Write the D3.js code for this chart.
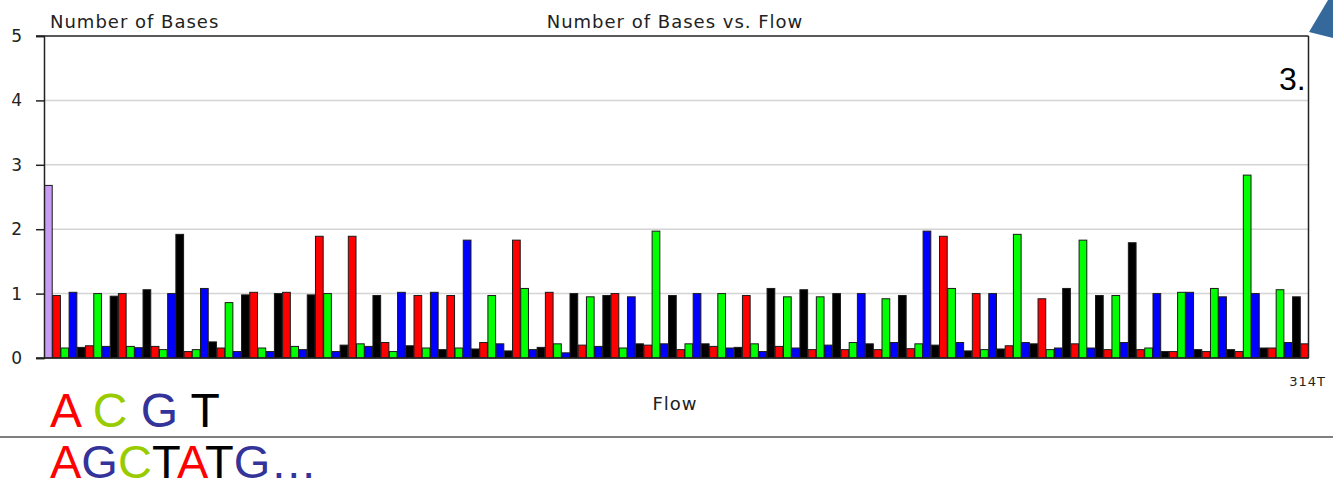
<!DOCTYPE html>
<html>
<head>
<meta charset="utf-8">
<script src="https://cdn.jsdelivr.net/npm/d3@7"></script>
<style>
  html, body { margin: 0; padding: 0; background: #fff; }
  svg { display: block; }
</style>
</head>
<body>
<svg id="chart" width="1333" height="489"></svg>
<script>
// ---- DATA ----
const flowBases = ["A", "C", "G", "T"];          // colour cycle after the key bar
const keyValue = 2.68;                            // first (purple) bar
const flowValues = [
  0.97, 0.155, 1.02, 0.165, 0.19, 1.0, 0.18, 0.96, 1.0, 0.18, 0.16, 1.06,
  0.18, 0.13, 1.0, 1.92, 0.1, 0.13, 1.08, 0.25, 0.155, 0.86, 0.1, 0.98,
  1.02, 0.155, 0.1, 1.0, 1.02, 0.18, 0.13, 0.98, 1.89, 1.0, 0.1, 0.2,
  1.89, 0.22, 0.18, 0.97, 0.24, 0.1, 1.02, 0.19, 0.97, 0.155, 1.02, 0.13,
  0.97, 0.155, 1.83, 0.14, 0.24, 0.97, 0.22, 0.11, 1.83, 1.08, 0.13, 0.165,
  1.02, 0.22, 0.08, 1.0, 0.2, 0.95, 0.18, 0.97, 1.0, 0.155, 0.95, 0.22,
  0.2, 1.97, 0.22, 0.97, 0.13, 0.22, 1.0, 0.22, 0.18, 1.0, 0.155, 0.165,
  0.97, 0.22, 0.1, 1.08, 0.18, 0.95, 0.155, 1.06, 0.13, 0.95, 0.2, 1.0,
  0.13, 0.24, 1.0, 0.22, 0.13, 0.92, 0.24, 0.97, 0.145, 0.22, 1.97, 0.2,
  1.89, 1.08, 0.24, 0.11, 1.0, 0.13, 1.0, 0.14, 0.19, 1.92, 0.24, 0.22,
  0.92, 0.13, 0.155, 1.08, 0.22, 1.83, 0.155, 0.97, 0.13, 0.97, 0.24, 1.79,
  0.13, 0.155, 1.0, 0.1, 0.1, 1.02, 1.02, 0.13, 0.1, 1.08, 0.95, 0.13,
  0.1, 2.84, 1.0, 0.155, 0.155, 1.06, 0.24, 0.95, 0.22
];
const yTicks = [0, 1, 2, 3, 4, 5];
const gridValues = [1, 2, 3, 4];
const legendLetters = ["A", " ", "C", " ", "G", " ", "T"];
const readLetters = ["A", "G", "C", "T", "A", "T", "G", "…"];
const baseColors = { A: "#ff0000", C: "#00ff00", G: "#0000ff", T: "#000000", key: "#c89cf4" };
const letterColors = { A: "#ff0000", C: "#99cc00", G: "#333399", T: "#000000", "…": "#333399", " ": "#000" };

// ---- BUILD ----
const bars = [{ i: 0, base: "key", v: keyValue }].concat(
  flowValues.map((v, k) => ({ i: k + 1, base: flowBases[k % 4], v }))
);

const svg = d3.select("#chart");
const mLeft = 44, mRight = 1308.5, mTop = 36, mBottom = 358;

const x = d3.scaleBand().domain(bars.map(d => d.i)).range([mLeft, mRight]).padding(0);
const y = d3.scaleLinear().domain([0, 5]).range([mBottom, mTop]);

// gridlines
svg.append("g").selectAll("line").data(gridValues).join("line")
  .attr("x1", mLeft).attr("x2", mRight)
  .attr("y1", d => y(d)).attr("y2", d => y(d))
  .attr("stroke", "#d4d4d4").attr("stroke-width", 1.5);

// bars
svg.append("g").selectAll("rect").data(bars).join("rect")
  .attr("x", d => x(d.i) + 0.5)
  .attr("width", x.bandwidth() - 0.5)
  .attr("y", d => y(d.v))
  .attr("height", d => y(0) - y(d.v))
  .attr("fill", d => baseColors[d.base])
  .attr("stroke", "#1a1a1a").attr("stroke-width", 1);

// y axis
const yAxis = d3.axisLeft(y).tickValues(yTicks).tickSize(8).tickPadding(14).tickFormat(d3.format("d"));
const ga = svg.append("g").attr("transform", `translate(${mLeft},0)`).call(yAxis);
ga.select(".domain").attr("stroke", "#222").attr("stroke-width", 1.5);
ga.selectAll(".tick line").attr("stroke", "#222").attr("stroke-width", 1.5);
ga.selectAll(".tick text").attr("font-family", "DejaVu Sans").attr("font-size", 17).attr("fill", "#222");

// frame
svg.append("line").attr("x1", mLeft - 8).attr("x2", mRight).attr("y1", mTop).attr("y2", mTop)
  .attr("stroke", "#222").attr("stroke-width", 1.5);
svg.append("line").attr("x1", mRight).attr("x2", mRight).attr("y1", mTop).attr("y2", mBottom)
  .attr("stroke", "#222").attr("stroke-width", 1.5);
svg.append("line").attr("x1", mLeft - 8).attr("x2", mRight).attr("y1", mBottom).attr("y2", mBottom)
  .attr("stroke", "#222").attr("stroke-width", 1.5);

// texts
const lab = (t, xx, yy, size, anchor) => svg.append("text").text(t)
  .attr("x", xx).attr("y", yy).attr("font-family", "DejaVu Sans")
  .attr("font-size", size).attr("fill", "#222").attr("letter-spacing", 1)
  .attr("text-anchor", anchor || "start");
lab("Number of Bases", 50, 28, 18);
lab("Number of Bases vs. Flow", 675, 28, 18, "middle");
lab("Flow", 675, 410, 18, "middle");
lab("314T", 1326, 386, 13, "end");

// "3." and corner triangle
svg.append("text").text("3.").attr("x", 1279).attr("y", 90)
  .attr("font-family", "Liberation Sans").attr("font-size", 32).attr("fill", "#000");
svg.append("path").attr("d", "M1309,32 L1328,0 L1333,0 L1333,38 Z").attr("fill", "#35699c");

// big letters
const t1 = svg.append("text").attr("x", 50).attr("y", 427)
  .attr("font-family", "Liberation Sans").attr("font-size", 48)
  .style("white-space", "pre");
t1.selectAll("tspan").data(legendLetters).join("tspan").text(d => d).attr("fill", d => letterColors[d]);

svg.append("line").attr("x1", 0).attr("x2", 1333).attr("y1", 437).attr("y2", 437)
  .attr("stroke", "#555").attr("stroke-width", 1.5);

const t2 = svg.append("text").attr("x", 50).attr("y", 478)
  .attr("font-family", "Liberation Sans").attr("font-size", 47);
t2.selectAll("tspan").data(readLetters).join("tspan").text(d => d).attr("fill", d => letterColors[d]);
</script>
</body>
</html>
